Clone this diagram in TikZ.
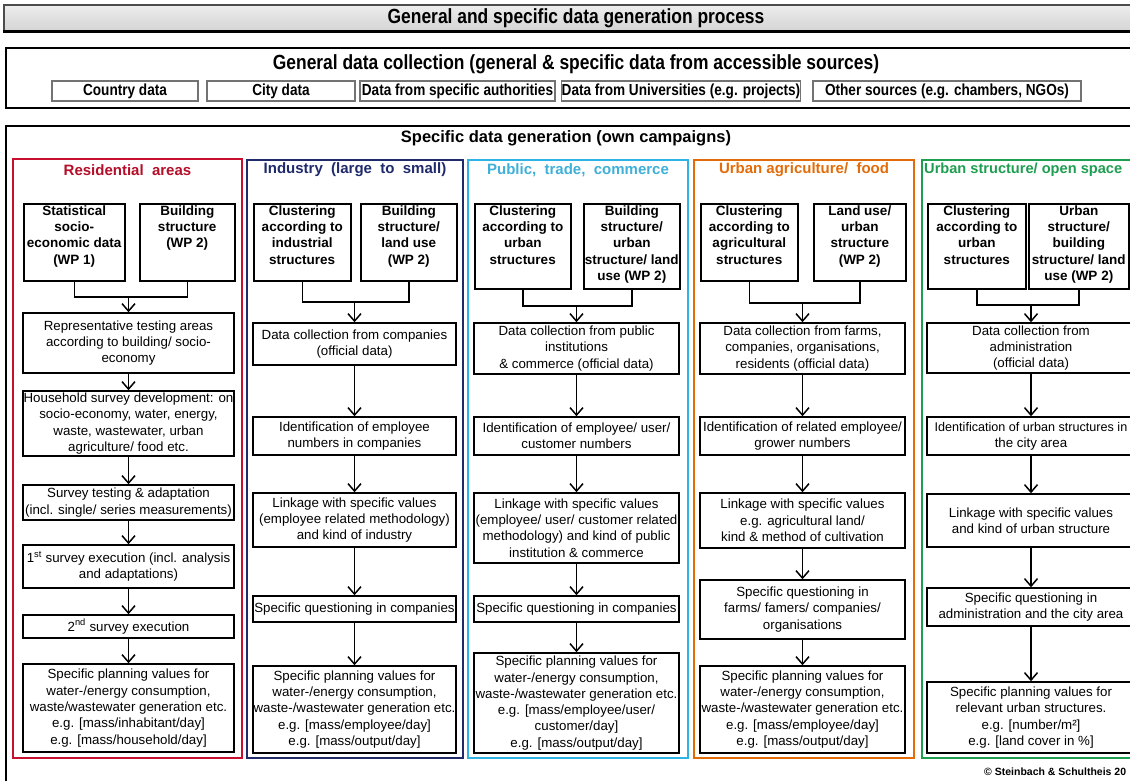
\documentclass[tikz,border=0pt]{standalone}
\usepackage{fontspec}
\setmainfont{Liberation Sans}
\usetikzlibrary{arrows.meta}
\definecolor{cred}{HTML}{C8102E}
\definecolor{cnavy}{HTML}{1F2A6B}
\definecolor{cblue}{HTML}{2DB3E6}
\definecolor{cbluet}{HTML}{3FB0D8}
\definecolor{corange}{HTML}{E36C0A}
\definecolor{cgreen}{HTML}{1E9E50}
\tikzset{
  box/.style={draw=black, line width=1.5pt, fill=white, align=center, inner sep=0pt, font=\fontsize{13.3}{16.3}\selectfont},
  tbox/.style={draw=black, line width=1.5pt, fill=white, inner sep=0pt, font=\fontsize{13.5}{16.4}\selectfont\bfseries},
  frame/.style={line width=2.4pt, inner sep=0pt},
  outer/.style={draw=black, line width=2.2pt, inner sep=0pt},
  conn/.style={line width=1.5pt},
  arr/.style={line width=1.5pt, -{Straight Barb[length=7.5pt,width=13pt]}},
  coltitle/.style={font=\fontsize{15}{18}\selectfont\bfseries, inner sep=0pt},
  srcbox/.style={draw=black!55, line width=1.4pt, fill=white, inner sep=0pt, font=\fontsize{16}{18}\selectfont\bfseries},
}
\newcommand\bx[6]{\node[box, minimum width={#4-#2}, minimum height={#5-#3}] (#1) at ({(#2+#4)/2},{(#3+#5)/2}) {#6};}
\newcommand\tb[6]{\pgfmathsetlengthmacro\tbw{#4-#2}\pgfmathsetlengthmacro\tbh{#5-#3}%
  \node[tbox, anchor=north west] (#1) at (#2,#3) {\parbox[c][\tbh][t]{\tbw}{\centering\vspace*{1.5pt}#6\par}};}
\newcommand\fr[6]{\node[frame, draw=#6, minimum width={#4-#2}, minimum height={#5-#3}] (#1) at ({(#2+#4)/2},{(#3+#5)/2}) {};}
\newcommand\src[6]{\node[srcbox, minimum width={#4-#2}, minimum height={#5-#3}] (#1) at ({(#2+#4)/2},{(#3+#5)/2}) {\scalebox{0.85}[1]{#6}};}
\newcommand\chain[2]{\draw[arr] (#1.south) -- (#2.north);}
\begin{document}
\begin{tikzpicture}[x=1pt,y=-1pt]
\useasboundingbox (0,0) rectangle (1130,780);
\clip (0,0) rectangle (1130,780);
\fill[white] (0,0) rectangle (1130,780);
% banner
\node[draw=black!70, line width=1.2pt, top color=black!7, bottom color=black!17, minimum width=1144pt, minimum height=26pt, inner sep=0pt,
  font=\fontsize{20.5}{24}\selectfont\bfseries] (banner) at (576,18) {\scalebox{0.85}[1]{General and specific data generation process}};
\draw[line width=2.4pt] (banner.south west) -- (banner.south east);
% general data collection
\node[outer, minimum width=1140pt, minimum height=60pt] (gen) at (576,78) {};
\node[inner sep=0pt, font=\fontsize{20.5}{24}\selectfont\bfseries] (gentitle) at (576,64) {\scalebox{0.85}[1]{General data collection (general \& specific data from accessible sources)}};
\src{s1}{52}{81}{198}{101}{Country data}
\src{s2}{207}{81}{355}{101}{City data}
\src{s3}{360}{81}{555}{101}{Data from specific authorities}
\src{s4}{562}{81}{800}{101}{Data from Universities (e.g. projects)}
\src{s5}{813}{81}{1081}{101}{Other sources (e.g. chambers, NGOs)}
% specific data generation
\node[outer, minimum width=1140pt, minimum height=674pt] (spec) at (576,463) {};
\node[inner sep=0pt, font=\fontsize{16.5}{20}\selectfont\bfseries] (spectitle) at (566,138) {Specific data generation (own campaigns)};
% column frames
\fr{colr}{13}{159}{242}{758}{cred}
\fr{coln}{247}{160}{463}{758}{cnavy}
\fr{colb}{468}{160}{688}{758}{cblue}
\fr{colo}{694}{160}{914}{758}{corange}
\fr{colg}{922}{160}{1142}{758}{cgreen}
\node[coltitle, text=cred!90!black] (tr) at (127.5,170) {Residential\ \ areas};
\node[coltitle, text=cnavy] (tn) at (355,170) {Industry\ \ (large\ \ to\ \ small)};
\node[coltitle, text=cbluet] (tbl) at (578,170) {Public,\ \ trade,\ \ commerce};
\node[coltitle, text=corange] (to) at (804,170) {Urban agriculture/\ \ food};
\node[coltitle, text=cgreen, anchor=west, font=\fontsize{14.6}{18}\selectfont\bfseries] (tg) at (924,170) {Urban structure/ open space};
% ---------- residential
\tb{r1}{23}{203}{124}{280}{Statistical\\socio-\\economic data\\(WP 1)}
\tb{r2}{139}{203}{234}{280}{Building\\structure\\(WP 2)}
\bx{r3}{23}{313}{234}{373}{Representative testing areas\\according to building/ socio-\\economy}
\bx{r4}{23}{391}{234}{456}{Household survey development: on\\socio-economy, water, energy,\\waste, wastewater, urban\\agriculture/ food etc.}
\bx{r5}{23}{485}{234}{520}{Survey testing \& adaptation\\(incl. single/ series measurements)}
\bx{r6}{23}{545}{234}{588}{1\textsuperscript{st} survey execution (incl. analysis\\and adaptations)}
\bx{r7}{23}{615}{234}{638}{2\textsuperscript{nd} survey execution}
\bx{r8}{23}{664}{234}{752}{Specific planning values for\\water-/energy consumption,\\waste/wastewater generation etc.\\e.g. [mass/inhabitant/day]\\e.g. [mass/household/day]}
\coordinate (rj) at (128.5,297);
\draw[conn] (r1.south) |- (rj) -| (r2.south);
\draw[arr] (rj) -- (r3.north);
\chain{r3}{r4}\chain{r4}{r5}\chain{r5}{r6}\chain{r6}{r7}\chain{r7}{r8}
% ---------- industry
\tb{n1}{253}{203}{350}{280}{Clustering\\according to\\industrial\\structures}
\tb{n2}{360}{203}{456}{280}{Building\\structure/\\land use\\(WP 2)}
\bx{n3}{253}{323}{456}{365}{Data collection from companies\\(official data)}
\bx{n4}{253}{417}{456}{455}{Identification of employee\\numbers in companies}
\bx{n5}{253}{493}{456}{547}{Linkage with specific values\\(employee related methodology)\\and kind of industry}
\bx{n6}{253}{596}{456}{622}{Specific questioning in companies}
\bx{n7}{253}{666}{456}{753}{Specific planning values for\\water-/energy consumption,\\waste-/wastewater generation etc.\\e.g. [mass/employee/day]\\e.g. [mass/output/day]}
\coordinate (nj) at (354.5,302);
\draw[conn] (n1.south) |- (nj) -| (n2.south);
\draw[arr] (nj) -- (n3.north);
\chain{n3}{n4}\chain{n4}{n5}\chain{n5}{n6}\chain{n6}{n7}
% ---------- public
\tb{b1}{474}{203}{570}{288}{Clustering\\according to\\urban\\structures}
\tb{b2}{583}{203}{679}{288}{Building\\structure/\\urban\\structure/ land\\use (WP 2)}
\bx{b3}{474}{323}{679}{374}{Data collection from public\\institutions\\\& commerce (official data)}
\bx{b4}{474}{417}{679}{455}{Identification of employee/ user/\\customer numbers}
\bx{b5}{474}{493}{679}{563}{Linkage with specific values\\(employee/ user/ customer related\\methodology) and kind of public\\institution \& commerce}
\bx{b6}{474}{596}{679}{622}{Specific questioning in companies}
\bx{b7}{474}{653}{679}{753}{Specific planning values for\\water-/energy consumption,\\waste-/wastewater generation etc.\\e.g. [mass/employee/user/\\customer/day]\\e.g. [mass/output/day]}
\coordinate (bj) at (576.5,306);
\draw[conn] (b1.south) |- (bj) -| (b2.south);
\draw[arr] (bj) -- (b3.north);
\chain{b3}{b4}\chain{b4}{b5}\chain{b5}{b6}\chain{b6}{b7}
% ---------- agriculture
\tb{o1}{700}{203}{797}{280}{Clustering\\according to\\agricultural\\structures}
\tb{o2}{813}{203}{905}{280}{Land use/\\urban\\structure\\(WP 2)}
\bx{o3}{700}{323}{905}{374}{Data collection from farms,\\companies, organisations,\\residents (official data)}
\bx{o4}{700}{417}{905}{455}{Identification of related employee/\\grower numbers}
\bx{o5}{700}{493}{905}{548}{Linkage with specific values\\e.g. agricultural land/\\kind \& method of cultivation}
\bx{o6}{700}{580}{905}{639}{Specific questioning in\\farms/ famers/ companies/\\organisations}
\bx{o7}{700}{666}{905}{753}{Specific planning values for\\water-/energy consumption,\\waste-/wastewater generation etc.\\e.g. [mass/employee/day]\\e.g. [mass/output/day]}
\coordinate (oj) at (802.5,303);
\draw[conn] (o1.south) |- (oj) -| (o2.south);
\draw[arr] (oj) -- (o3.north);
\chain{o3}{o4}\chain{o4}{o5}\chain{o5}{o6}\chain{o6}{o7}
% ---------- urban structure
\tb{g1}{927}{203}{1025}{288}{Clustering\\according to\\urban\\structures}
\tb{g2}{1028}{203}{1128}{288}{Urban\\structure/\\building\\structure/ land\\use (WP 2)}
\bx{g3}{927}{323}{1135}{373}{Data collection from\\administration\\(official data)}
\bx{g4}{927}{417}{1135}{455}{\fontsize{12.6}{16.3}\selectfont Identification of urban structures in\\the city area}
\bx{g5}{927}{494}{1135}{547}{Linkage with specific values\\and kind of urban structure}
\bx{g6}{927}{588}{1135}{626}{Specific questioning in\\administration and the city area}
\bx{g7}{927}{682}{1135}{753}{Specific planning values for\\relevant urban structures.\\e.g. [number/m²]\\e.g. [land cover in \%]}
\coordinate (gj) at (1031,305);
\draw[conn] (g1.south) |- (gj) -| (g2.south);
\draw[arr] (gj) -- (g3.north);
\chain{g3}{g4}\chain{g4}{g5}\chain{g5}{g6}\chain{g6}{g7}
% copyright
\node[anchor=west, inner sep=0pt, font=\fontsize{10.5}{12}\selectfont\bfseries] (copy) at (984,772) {© Steinbach \& Schultheis 20};
\end{tikzpicture}
\end{document}
